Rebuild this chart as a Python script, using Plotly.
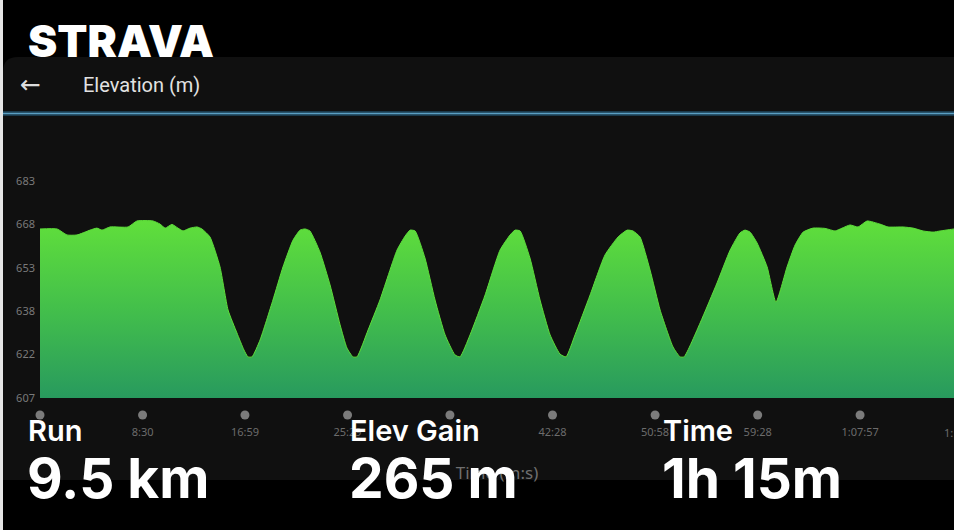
import plotly.graph_objects as go

# ---------------- data ----------------
TIME_S = [0, 85, 134, 184, 249, 283, 308, 348, 438, 482, 562, 597, 622, 656, 686, 711,
          746, 781, 805, 845, 895, 935, 979, 1014, 1034, 1054, 1094, 1158, 1208, 1258,
          1293, 1318, 1342, 1392, 1442, 1492, 1526, 1556, 1576, 1631, 1690, 1775, 1815,
          1840, 1865, 1914, 1964, 2014, 2063, 2088, 2138, 2213, 2287, 2337, 2362, 2387,
          2436, 2486, 2536, 2585, 2615, 2660, 2735, 2809, 2874, 2919, 2948, 2983, 3033,
          3083, 3147, 3182, 3202, 3282, 3366, 3431, 3480, 3505, 3530, 3565, 3615, 3659,
          3714, 3754, 3794, 3843, 3903, 3953, 3988, 4027, 4067, 4112, 4176, 4216, 4291,
          4341, 4390, 4440, 4475, 4544, 4580]
ELEV_M = [666.2, 666.2, 664.1, 664.1, 665.8, 666.5, 665.8, 666.9, 666.9, 669.0, 669.0,
          667.9, 666.5, 667.8, 666.5, 665.5, 666.5, 666.9, 666.2, 663.4, 652.9, 637.8,
          629.8, 623.8, 621.4, 621.4, 627.3, 641.3, 652.9, 662.3, 665.8, 666.2, 665.5,
          658.1, 646.6, 632.6, 624.5, 621.4, 621.4, 630.8, 641.3, 658.8, 663.7, 665.8,
          665.5, 656.0, 641.3, 629.1, 622.1, 621.4, 629.1, 643.1, 658.8, 664.1, 665.8,
          665.5, 656.0, 641.3, 629.1, 622.4, 621.4, 629.1, 643.1, 657.1, 663.4, 665.8,
          665.5, 663.4, 651.8, 637.8, 624.9, 621.4, 621.4, 633.3, 647.3, 658.8, 664.8,
          665.8, 665.1, 661.3, 652.9, 640.6, 652.9, 660.6, 665.1, 666.5, 666.4, 665.5,
          666.5, 667.6, 666.9, 669.0, 667.9, 666.9, 666.9, 666.5, 665.5, 665.1, 665.5,
          666.2, 666.5]

X_TICKS = [0, 510, 1019, 1529, 2038, 2548, 3058, 3568, 4077]
X_TICK_TEXT = ["", "8:30", "16:59", "25:29", "", "42:28", "50:58", "59:28", "1:07:57"]
X_NEXT_TICK = 4587
X_NEXT_TEXT = "1:16:27"
X_END = 4544

Y_TICKS = [607, 622.2, 637.4, 652.6, 667.8, 683]
Y_TICK_TEXT = ["607", "622", "638", "653", "668", "683"]

STAT_LABELS = ["Run", "Elev Gain", "Time"]
STAT_VALUES = ["9.5 km", "265 m", "1h 15m"]

# ---------------- layout geometry ----------------
W, H = 954, 530
L, R, T, B = 40, 0, 181, 105
PW, PH = W - L - R, H - T - B


def fx(px):
    return (px - L) / PW


def fy(py):
    return (H - B - py) / PH


fig = go.Figure()

fig.add_trace(go.Scatter(
    x=TIME_S, y=ELEV_M, mode="lines",
    line=dict(color="#5ddd3a", width=1, shape="spline", smoothing=0.5),
    fill="tozeroy",
    fillgradient=dict(type="vertical", start=607, stop=669,
                      colorscale=[[0, "#289a5e"], [0.5, "#43bf4b"], [1, "#60df3b"]]),
    hoverinfo="skip", showlegend=False,
))

# tick dots
fig.add_trace(go.Scatter(
    x=X_TICKS + [X_NEXT_TICK], y=[0.5] * (len(X_TICKS) + 1), mode="markers",
    marker=dict(size=9, color="#7b7b7b"), xaxis="x", yaxis="y2",
    cliponaxis=False, hoverinfo="skip", showlegend=False,
))

shapes = [
    # left light strip
    dict(type="rect", xref="paper", yref="paper", x0=fx(0), x1=fx(3), y0=fy(H), y1=fy(0),
         fillcolor="#e6e6e6", line_width=0, layer="below"),
    # dark panel with rounded top-left corner
    dict(type="path", xref="paper", yref="paper",
         path=(f"M {fx(3)},{fy(480)} L {fx(3)},{fy(72)} Q {fx(3)},{fy(57)} {fx(18)},{fy(57)} "
               f"L {fx(W)},{fy(57)} L {fx(W)},{fy(480)} Z"),
         fillcolor="#101010", line_width=0, layer="below"),
    # blue separator glow + core
    dict(type="line", xref="paper", yref="paper", x0=fx(3), x1=fx(W), y0=fy(113.5), y1=fy(113.5),
         line=dict(color="rgba(40,110,150,0.45)", width=5), layer="below"),
    dict(type="line", xref="paper", yref="paper", x0=fx(3), x1=fx(W), y0=fy(113.5), y1=fy(113.5),
         line=dict(color="#5b9fc3", width=1.6), layer="below"),
]

ann = []
ann.append(dict(text="STRAVA", x=fx(26), y=fy(41), xref="paper", yref="paper",
                xanchor="left", yanchor="middle", showarrow=False,
                font=dict(family="Inter", size=44, color="#ffffff", weight=900)))
ann.append(dict(text="←", x=fx(18), y=fy(84), xref="paper", yref="paper",
                xanchor="left", yanchor="middle", showarrow=False,
                font=dict(family="DejaVu Sans", size=25, color="#dddddd")))
ann.append(dict(text="Elevation (m)", x=fx(81), y=fy(85), xref="paper", yref="paper",
                xanchor="left", yanchor="middle", showarrow=False,
                font=dict(family="Roboto", size=20, color="#e2e2e2")))
ann.append(dict(text=X_NEXT_TEXT, x=X_NEXT_TICK / X_END, y=fy(432), xref="paper", yref="paper",
                xanchor="center", yanchor="middle", showarrow=False,
                font=dict(family="Noto Sans", size=11, color="#6c6c6c")))

stat_x = [26, 348, 661]
for sx, lab, val in zip(stat_x, STAT_LABELS, STAT_VALUES):
    ann.append(dict(text=lab, x=fx(sx), y=fy(430), xref="paper", yref="paper",
                    xanchor="left", yanchor="middle", showarrow=False,
                    font=dict(family="Inter", size=29, color="#ffffff", weight=600)))
    ann.append(dict(text=val, x=fx(sx - 1), y=fy(478), xref="paper", yref="paper",
                    xanchor="left", yanchor="middle", showarrow=False,
                    font=dict(family="Inter", size=55, color="#ffffff", weight=700)))

fig.update_layout(
    width=W, height=H,
    margin=dict(l=L, r=R, t=T, b=B, pad=0),
    paper_bgcolor="#000000", plot_bgcolor="rgba(0,0,0,0)",
    shapes=shapes, annotations=ann, showlegend=False,
    xaxis=dict(range=[0, X_END], tickvals=X_TICKS, ticktext=X_TICK_TEXT,
               showgrid=False, zeroline=False, showline=False, ticks="",
               anchor="y", ticklabelstandoff=26, automargin=False,
               tickfont=dict(family="Noto Sans", size=11, color="#6c6c6c"),
               title=dict(text="Time (m:s)", standoff=29,
                          font=dict(family="Noto Sans", size=17, color="#6f6f6f"))),
    yaxis=dict(range=[607, 683], tickvals=Y_TICKS, ticktext=Y_TICK_TEXT,
               domain=[fy(398), 1], showgrid=False, zeroline=False, showline=False,
               ticks="", ticklabelstandoff=4, automargin=False,
               tickfont=dict(family="Noto Sans", size=11, color="#7a7a7a")),
    yaxis2=dict(range=[0, 1], domain=[0, fy(405)], visible=False, fixedrange=True),
)

fig.write_html("out.html")
